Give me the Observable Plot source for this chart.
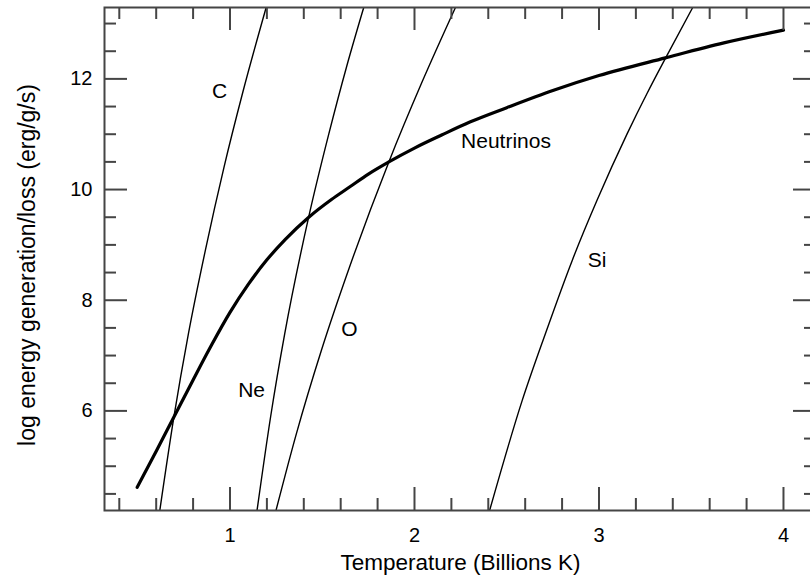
<!DOCTYPE html>
<html>
<head>
<meta charset="utf-8">
<script src="https://cdn.jsdelivr.net/npm/d3@7"></script>
<script src="https://cdn.jsdelivr.net/npm/@observablehq/plot@0.6"></script>
<style>
  html, body { margin: 0; padding: 0; background: #fff; overflow: hidden; }
  #chart { width: 810px; height: 580px; }
</style>
</head>
<body>
<div id="chart"></div>
<script>
// Neutrino loss curve
const nuT = [0.497, 0.6, 0.696, 0.8, 0.9, 1.0, 1.1, 1.2, 1.3, 1.427, 1.55, 1.65, 1.75, 1.861, 2.0, 2.15, 2.3, 2.5, 2.75, 3.0, 3.36, 3.677, 4.0];
const nuE = [4.62, 5.27, 5.89, 6.56, 7.19, 7.78, 8.29, 8.73, 9.10, 9.50, 9.82, 10.05, 10.28, 10.50, 10.75, 10.99, 11.22, 11.48, 11.79, 12.06, 12.38, 12.65, 12.88];
// Carbon burning
const cT = [0.620, 0.696, 0.775, 0.867, 0.968, 1.068, 1.196];
const cE = [4.21, 5.89, 7.40, 8.91, 10.41, 11.74, 13.29];
// Neon burning
const neT = [1.147, 1.220, 1.297, 1.427, 1.536, 1.632, 1.725];
const neE = [4.21, 5.89, 7.40, 9.51, 11.01, 12.22, 13.29];
// Oxygen burning
const oT = [1.250, 1.360, 1.496, 1.648, 1.861, 2.038, 2.222];
const oE = [4.21, 5.59, 7.10, 8.60, 10.50, 11.92, 13.29];
// Silicon burning
const siT = [2.408, 2.584, 2.710, 2.855, 2.990, 3.153, 3.261, 3.360, 3.508];
const siE = [4.21, 6.19, 7.40, 8.72, 9.81, 11.01, 11.74, 12.37, 13.29];

// Curve labels
const labelText = ["C", "Ne", "O", "Si", "Neutrinos"];
const labelT = [0.943, 1.117, 1.648, 2.990, 2.496];
const labelE = [11.77, 6.37, 7.47, 8.72, 10.88];

// Axis ticks
const xMajor = [1, 2, 3, 4];
const xMinor = [0.4, 0.6, 0.8, 1.2, 1.4, 1.6, 1.8, 2.2, 2.4, 2.6, 2.8, 3.2, 3.4, 3.6, 3.8];
const yMajor = [6, 8, 10, 12];
const yMinor = [4.5, 5, 5.5, 6.5, 7, 7.5, 8.5, 9, 9.5, 10.5, 11, 11.5, 12.5, 13];

const xTitle = "Temperature (Billions K)";
const yTitle = "log energy generation/loss (erg/g/s)";

const toRows = (xs, ys) => xs.map((x, i) => ({x, y: ys[i]}));

const W = 810, H = 580;
const mL = 104, mR = -6, mT = 7, mB = 70;
const fw = W - mL - mR, fh = H - mT - mB;
const majorLen = 23, minorLen = 12;
const axisColor = "#454545";

const elementLines = [[cT, cE], [neT, neE], [oT, oE], [siT, siE]];

const chart = Plot.plot({
  width: W,
  height: H,
  marginLeft: mL,
  marginRight: mR,
  marginTop: mT,
  marginBottom: mB,
  style: {fontFamily: "'Liberation Sans', Arial, Helvetica, sans-serif", background: "#fff", color: "#000"},
  x: {domain: [0.3198, 4.179], label: null},
  y: {domain: [4.2, 13.29], label: null},
  marks: [
    ...elementLines.map(([xs, ys]) =>
      Plot.line(toRows(xs, ys), {x: "x", y: "y", stroke: "#000", strokeWidth: 1.4, curve: "monotone-x", clip: true})
    ),
    Plot.line(toRows(nuT, nuE), {x: "x", y: "y", stroke: "#000", strokeWidth: 3.2, curve: "monotone-x", clip: true}),
    // ticks (inward)
    Plot.tickX(xMajor, {x: d => d, insetTop: fh - majorLen, stroke: axisColor, strokeWidth: 2}),
    Plot.tickX(xMinor, {x: d => d, insetTop: fh - minorLen, stroke: axisColor, strokeWidth: 2}),
    Plot.tickX(xMajor, {x: d => d, insetBottom: fh - majorLen, stroke: axisColor, strokeWidth: 2}),
    Plot.tickX(xMinor, {x: d => d, insetBottom: fh - minorLen, stroke: axisColor, strokeWidth: 2}),
    Plot.tickY(yMajor, {y: d => d, insetRight: fw - majorLen, stroke: axisColor, strokeWidth: 2}),
    Plot.tickY(yMinor, {y: d => d, insetRight: fw - minorLen, stroke: axisColor, strokeWidth: 2}),
    Plot.tickY(yMajor, {y: d => d, insetLeft: fw - majorLen, stroke: axisColor, strokeWidth: 2}),
    Plot.tickY(yMinor, {y: d => d, insetLeft: fw - minorLen, stroke: axisColor, strokeWidth: 2}),
    Plot.frame({stroke: axisColor, strokeWidth: 2}),
    // tick labels
    Plot.axisX(xMajor, {tickSize: 0, tickPadding: 17, fontSize: 20, label: null, fill: "#000", tickFormat: d3.format("d")}),
    Plot.axisY(yMajor, {tickSize: 0, tickPadding: 12, fontSize: 20, label: null, fill: "#000", tickFormat: d3.format("d")}),
    // axis titles
    Plot.text([xTitle], {text: d => d, frameAnchor: "bottom", dy: 59, fontSize: 22.5, fill: "#000"}),
    Plot.text([yTitle], {text: d => d, frameAnchor: "left", textAnchor: "middle", dx: -77, dy: 6, rotate: -90, fontSize: 23, fill: "#000"}),
    // curve labels
    Plot.text(labelText, {x: (d, i) => labelT[i], y: (d, i) => labelE[i], text: d => d, fontSize: 21, fill: "#000"})
  ]
});
document.getElementById("chart").appendChild(chart);
</script>
</body>
</html>
